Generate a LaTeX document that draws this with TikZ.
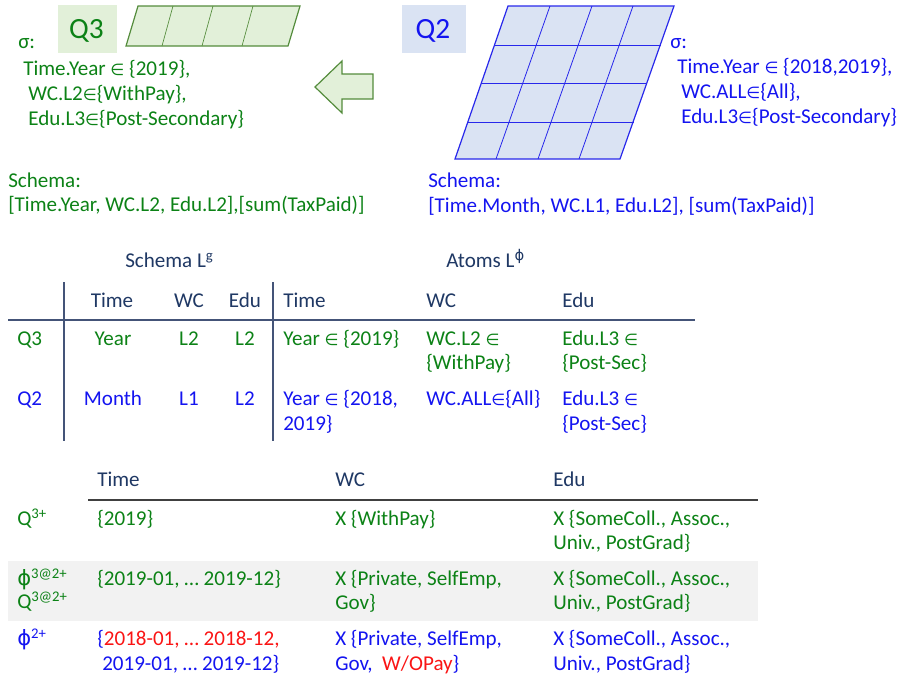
\documentclass[tikz,border=0pt]{standalone}
\usepackage{fontspec}
\setmainfont{Carlito}
\newfontfamily\dv{DejaVu Sans}
\newcommand\inn{{\dv\fontsize{12}{14}\selectfont ∈}}
\newcommand\vph{{\dv ϕ}}
\definecolor{cgreen}{RGB}{12,130,22}
\definecolor{cblue}{RGB}{20,20,240}
\definecolor{cred}{RGB}{250,20,20}
\definecolor{cnavy}{RGB}{31,56,100}
\definecolor{gfill}{RGB}{226,240,217}
\definecolor{bfill}{RGB}{218,227,243}
\definecolor{gedge}{RGB}{84,140,60}
\definecolor{bedge}{RGB}{40,40,235}
\definecolor{tline}{RGB}{68,84,120}
\definecolor{band}{RGB}{242,242,242}
\tikzset{
  txt/.style={anchor=base west, inner sep=0pt, font=\fontsize{15.8}{18}\selectfont},
  ctxt/.style={anchor=base, inner sep=0pt, font=\fontsize{15.8}{18}\selectfont},
  big/.style={anchor=base, inner sep=0pt, font=\fontsize{22}{26}\selectfont},
  gr/.style={text=cgreen}, bl/.style={text=cblue}, nv/.style={text=cnavy},
  gcube/.style={fill=gfill, draw=gedge, line width=0.9pt, line join=miter},
  bcube/.style={fill=bfill, draw=bedge, line width=0.9pt},
  ggrid/.style={draw=gedge, line width=0.5pt},
  bgrid/.style={draw=bedge, line width=0.6pt},
  tabline/.style={draw=tline, line width=1.3pt},
  botline/.style={draw=black!75, line width=0.9pt}
}
\begin{document}
\begin{tikzpicture}[x=0.75pt,y=-0.75pt]
\useasboundingbox (0,0) rectangle (899,678);

% ---------- Q3 (top left)
\fill[gfill] (58,5) rectangle (117,53);
\node[big,gr] (q3) at (86.5,38) {Q3};
\draw[gcube] (126,46) -- (138,6) -- (300,6) -- (288,46) -- cycle;
\draw[ggrid] (173,6) -- (162,46) (213,6) -- (202,46) (253,6) -- (242,46);

\node[txt,gr] (s3) at (18,48) {σ:};
\node[txt,gr] (s3a) at (23,75) {Time.Year \inn\ \{2019\},};
\node[txt,gr] (s3b) at (28,100) {WC.L2\inn\{WithPay\},};
\node[txt,gr] (s3c) at (28,125) {Edu.L3\inn\{Post-Secondary\}};
\node[txt,gr] (sc3) at (8,187) {Schema:};
\node[txt,gr] (sc3b) at (8,211) {[Time.Year, WC.L2, Edu.L2],[sum(TaxPaid)]};

% ---------- arrow
\draw[gcube] (315,87) -- (342,61) -- (342,74) -- (373,74) -- (373,99) -- (342,99) -- (342,113) -- cycle;

% ---------- Q2 (top right)
\fill[bfill] (402,5) rectangle (466,53);
\node[big,bl] (q2) at (433,38) {Q2};
\draw[bcube] (455,159) -- (508,6) -- (674,6) -- (620,159) -- cycle;
\draw[bgrid] (550,6) -- (496,159) (592,6) -- (538,159) (633,6) -- (579,159);
\draw[bgrid] (494.5,45) -- (660.5,45) (481.3,83) -- (647.3,83) (467.8,122) -- (633.8,122);

\node[txt,bl] (s2) at (670,48) {σ:};
\node[txt,bl] (s2a) at (677,73) {Time.Year \inn\ \{2018,2019\},};
\node[txt,bl] (s2b) at (681,98) {WC.ALL\inn\{All\},};
\node[txt,bl] (s2c) at (681,123) {Edu.L3\inn\{Post-Secondary\}};
\node[txt,bl] (sc2) at (428,187) {Schema:};
\node[txt,bl] (sc2b) at (428,212) {[Time.Month, WC.L1, Edu.L2], [sum(TaxPaid)]};

% ---------- middle table
\draw[tabline] (64,282) -- (64,441);
\draw[tabline] (273,282) -- (273,441);
\draw[tabline] (8,320) -- (695,320);

\node[txt,nv] (hs) at (125,267) {Schema L\textsuperscript{g}};
\node[txt,nv] (ha) at (446,267) {Atoms L\textsuperscript{\vph}};

\node[ctxt,nv] (h1) at (112,307) {Time};
\node[ctxt,nv] (h2) at (189,307) {WC};
\node[ctxt,nv] (h3) at (245,307) {Edu};
\node[txt,nv] (h4) at (283,307) {Time};
\node[txt,nv] (h5) at (426,307) {WC};
\node[txt,nv] (h6) at (562,307) {Edu};

\node[txt,gr] (r1a) at (17,345) {Q3};
\node[ctxt,gr] (r1b) at (113,345) {Year};
\node[ctxt,gr] (r1c) at (189,345) {L2};
\node[ctxt,gr] (r1d) at (245,345) {L2};
\node[txt,gr] (r1e) at (283,345) {Year \inn\ \{2019\}};
\node[txt,gr] (r1f) at (426,345) {WC.L2 \inn};
\node[txt,gr] (r1g) at (426,369) {\{WithPay\}};
\node[txt,gr] (r1h) at (562,345) {Edu.L3 \inn};
\node[txt,gr] (r1i) at (562,369) {\{Post-Sec\}};

\node[txt,bl] (r2a) at (17,405) {Q2};
\node[ctxt,bl] (r2b) at (113,405) {Month};
\node[ctxt,bl] (r2c) at (189,405) {L1};
\node[ctxt,bl] (r2d) at (245,405) {L2};
\node[txt,bl] (r2e) at (283,405) {Year \inn\ \{2018,};
\node[txt,bl] (r2f) at (283,430) {2019\}};
\node[txt,bl] (r2g) at (426,405) {WC.ALL\inn\{All\}};
\node[txt,bl] (r2h) at (562,405) {Edu.L3 \inn};
\node[txt,bl] (r2i) at (562,430) {\{Post-Sec\}};

% ---------- bottom table
\fill[band] (8,561) rectangle (758,621);
\draw[botline] (88,500) -- (758,500);

\node[txt,nv] (b1) at (97,486) {Time};
\node[txt,nv] (b2) at (335,486) {WC};
\node[txt,nv] (b3) at (553,486) {Edu};

\node[txt,gr] (c1a) at (17,525) {Q\textsuperscript{3+}};
\node[txt,gr] (c1b) at (97,525) {\{2019\}};
\node[txt,gr] (c1c) at (335,525) {X \{WithPay\}};
\node[txt,gr] (c1d) at (553,525) {X \{SomeColl., Assoc.,};
\node[txt,gr] (c1e) at (553,549) {Univ., PostGrad\}};

\node[txt,gr] (c2a) at (17,585) {\vph\textsuperscript{3@2+}};
\node[txt,gr] (c2b) at (17,608) {Q\textsuperscript{3@2+}};
\node[txt,gr] (c2c) at (97,585) {\{2019-01, … 2019-12\}};
\node[txt,gr] (c2d) at (335,585) {X \{Private, SelfEmp,};
\node[txt,gr] (c2e) at (335,609) {Gov\}};
\node[txt,gr] (c2f) at (553,585) {X \{SomeColl., Assoc.,};
\node[txt,gr] (c2g) at (553,609) {Univ., PostGrad\}};

\node[txt,bl] (c3a) at (17,645) {\vph\textsuperscript{2+}};
\node[txt,bl] (c3b) at (97,645) {\{\textcolor{cred}{2018-01, … 2018-12,}};
\node[txt,bl] (c3c) at (102,670) {2019-01, … 2019-12\}};
\node[txt,bl] (c3d) at (335,645) {X \{Private, SelfEmp,};
\node[txt,bl] (c3e) at (335,670) {Gov,\ \ \textcolor{cred}{W/OPay}\}};
\node[txt,bl] (c3f) at (553,645) {X \{SomeColl., Assoc.,};
\node[txt,bl] (c3g) at (553,670) {Univ., PostGrad\}};
\end{tikzpicture}
\end{document}
